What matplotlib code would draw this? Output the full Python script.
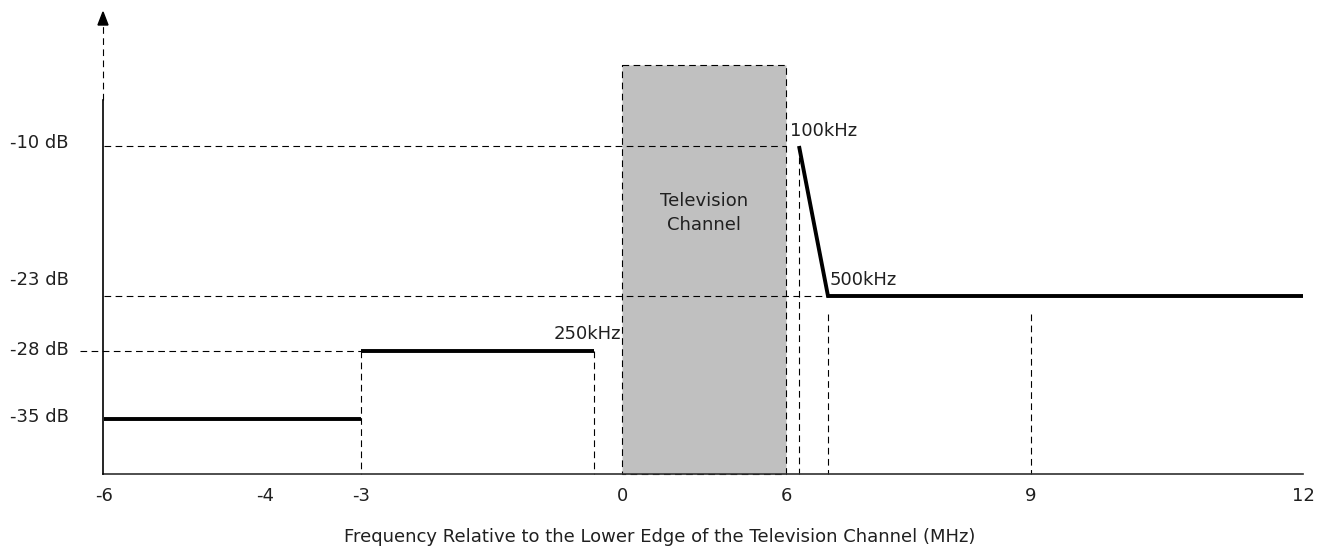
import numpy as np
import matplotlib.pyplot as plt
from matplotlib.patches import Polygon, Rectangle

# frequencies in MHz relative to the lower edge of the channel, levels in dB
tick_freqs = [-6, -4, -3, 0, 6, 9, 12]
tick_labels = ["-6", "-4", "-3", "0", "6", "9", "12"]
levels_db = [-35, -28, -23, -10]
level_labels = ["-35 dB", "-28 dB", "-23 dB", "-10 dB"]

# emission mask pieces
mask_low_f = [-6, -3]
mask_low_db = [-35, -35]
mask_mid_f = [-3, -0.25]
mask_mid_db = [-28, -28]
mask_high_f = [6.1, 6.5, 12]
mask_high_db = [-10, -23, -23]
channel_f = [0, 6]

# schematic (non linear) drawing scale, in pixels
pos_f = [-6, -4, -3, -0.25, 0, 6, 6.1, 6.5, 9, 12]
pos_px = [104, 265, 361, 594, 622, 786, 799, 828, 1031, 1303]
lev_px = [419, 351, 296, 146]
floor_px = 474
top_px = 65

def X(f):
    return np.interp(f, pos_f, pos_px)

def Y(db):
    return np.interp(db, levels_db, lev_px)

plt.rcParams['font.family'] = ['DejaVu Sans']
fig = plt.figure(figsize=(13.21, 5.52), dpi=100)
ax = fig.add_axes([0, 0, 1, 1])
ax.set_xlim(0, 1321)
ax.set_ylim(552, 0)
ax.axis('off')

dash = dict(color='black', lw=0.8, dashes=(6, 4))
thick = dict(color='black', lw=2.8, solid_capstyle='butt', solid_joinstyle='miter')
fs = 13
tc = '#202020'

# television channel box
x0, x1 = X(channel_f[0]), X(channel_f[1])
ax.add_patch(Rectangle((x0, top_px), x1 - x0, floor_px - top_px,
                       facecolor='#c0c0c0', edgecolor='black', lw=0.8,
                       linestyle=(0, (6, 4)), zorder=1))
ax.text((x0 + x1) / 2, 213, "Television\nChannel", ha='center', va='center',
        fontsize=fs, color=tc, linespacing=1.4, zorder=3)

# guide lines
ax.plot([X(-6), X(6)], [Y(-10), Y(-10)], zorder=2, **dash)
ax.plot([X(-6), X(6.5)], [Y(-23), Y(-23)], zorder=2, **dash)
ax.plot([80, X(-3)], [Y(-28), Y(-28)], zorder=2, **dash)
ax.plot([X(-3), X(-3)], [Y(-28), floor_px], zorder=2, **dash)
ax.plot([X(-0.25), X(-0.25)], [Y(-28), floor_px], zorder=2, **dash)
ax.plot([X(6.1), X(6.1)], [Y(-10), floor_px], zorder=2, **dash)
ax.plot([X(6.5), X(6.5)], [Y(-23) + 18, floor_px], zorder=2, **dash)
ax.plot([X(9), X(9)], [Y(-23) + 18, floor_px], zorder=2, **dash)

# axes
ax.plot([X(-6) - 1, X(12)], [floor_px, floor_px], color='#303030', lw=1.2, zorder=4)
ax.plot([X(-6) - 1, X(-6) - 1], [floor_px, 100], color='black', lw=1.2, zorder=4)
ax.plot([X(-6) - 1, X(-6) - 1], [100, 24], color='black', lw=0.8, dashes=(6, 4), zorder=4)
ax.add_patch(Polygon([[X(-6) - 6, 25], [X(-6) + 4, 25], [X(-6) - 1, 12]],
                     closed=True, facecolor='black', edgecolor='black', zorder=4))

# mask
ax.plot(X(mask_low_f), Y(mask_low_db), zorder=5, **thick)
ax.plot(X(mask_mid_f), Y(mask_mid_db), zorder=5, **thick)
ax.plot(X(mask_high_f), Y(mask_high_db), zorder=5, **thick)

# annotations
ax.text(X(0) - 1, Y(-28) - 17, "250kHz", ha='right', va='center', fontsize=fs, color=tc, zorder=6)
ax.text(X(6.1) - 9, Y(-10) - 15, "100kHz", ha='left', va='center', fontsize=fs, color=tc, zorder=6)
ax.text(X(6.5) + 2, Y(-23) - 16, "500kHz", ha='left', va='center', fontsize=fs, color=tc, zorder=6)

# level labels
lab_off = [-2, -1, -16, -3]
for db, lab, off in zip(levels_db, level_labels, lab_off):
    ax.text(10, Y(db) + off, lab, ha='left', va='center', fontsize=fs, color=tc)

# tick labels
for f, lab in zip(tick_freqs, tick_labels):
    ax.text(X(f), 496, lab, ha='center', va='center', fontsize=fs, color=tc)

ax.text(660, 537, "Frequency Relative to the Lower Edge of the Television Channel (MHz)",
        ha='center', va='center', fontsize=fs, color=tc)

fig.savefig("out.png", dpi=100)
